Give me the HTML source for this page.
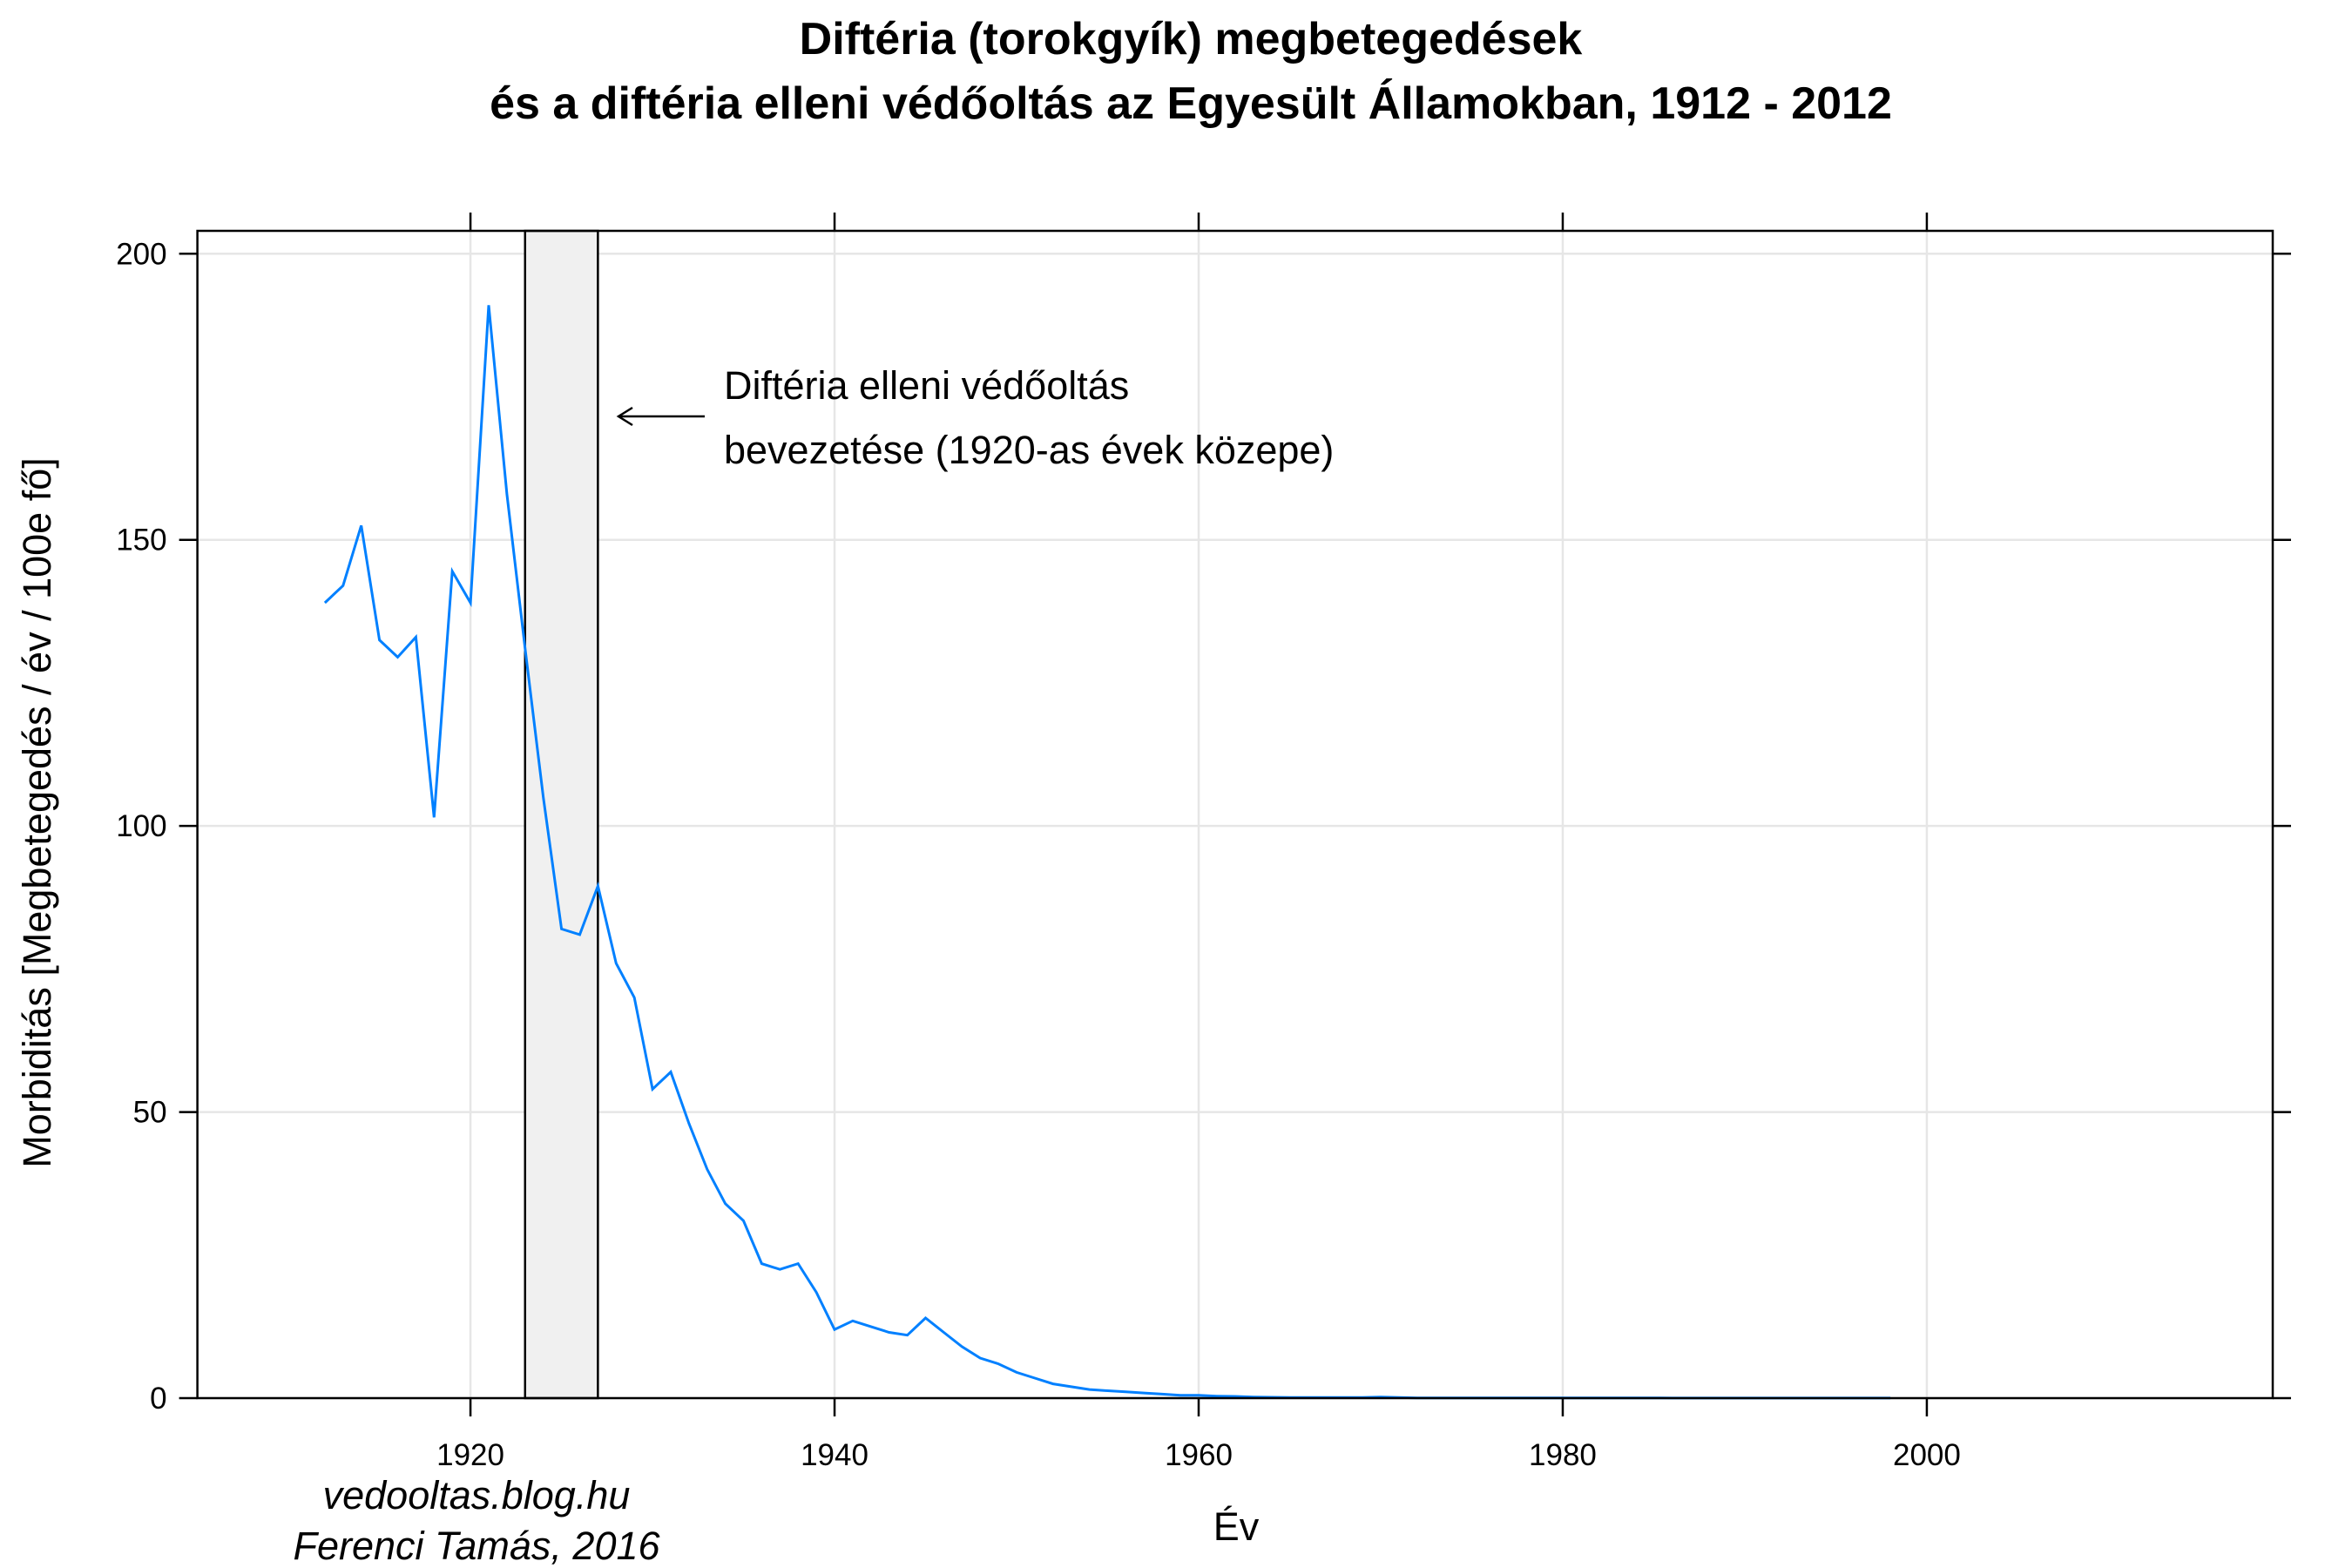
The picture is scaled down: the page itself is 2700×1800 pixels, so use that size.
<!DOCTYPE html>
<html><head><meta charset="utf-8">
<style>
html,body{margin:0;padding:0;background:#fff;}
svg{display:block;font-family:"Liberation Sans",Arial,sans-serif;}
</style></head>
<body>
<svg id="chart" width="2700" height="1800" viewBox="0 0 2700 1800" xmlns="http://www.w3.org/2000/svg">
<text x="1367" y="62" font-size="52" font-weight="bold" text-anchor="middle">Diftéria (torokgyík) megbetegedések</text>
<text x="1367" y="136" font-size="52" font-weight="bold" text-anchor="middle">és a diftéria elleni védőoltás az Egyesült Államokban, 1912 - 2012</text>
<g id="grid"></g>
<rect id="band" fill="#f0f0f0" stroke="#000" stroke-width="2.5"></rect>
<polyline id="series" fill="none" stroke="#0080ff" stroke-width="3"></polyline>
<rect x="226.6" y="265" width="2382.4" height="1340" fill="none" stroke="#000" stroke-width="2.5"></rect>
<g id="ticks"></g>
<g stroke="#000" stroke-width="2.5" fill="none">
<line x1="809" y1="478" x2="710" y2="478"></line>
<polyline points="726,468 710,478 726,488"></polyline>
</g>
<text x="831" y="458" font-size="45">Diftéria elleni védőoltás</text>
<text x="831" y="532" font-size="45">bevezetése (1920-as évek közepe)</text>
<text x="58" y="933" font-size="45" text-anchor="middle" transform="rotate(-90 58 933)">Morbiditás [Megbetegedés / év / 100e fő]</text>
<text x="1419" y="1768" font-size="45" text-anchor="middle">Év</text>
<text x="547" y="1732" font-size="45" font-style="italic" text-anchor="middle">vedooltas.blog.hu</text>
<text x="547" y="1802" font-size="45" font-style="italic" text-anchor="middle" dy="-12">Ferenci Tamás, 2016</text>
</svg>
<script>
const years = [1912,1913,1914,1915,1916,1917,1918,1919,1920,1921,1922,1923,1924,1925,1926,1927,1928,1929,1930,1931,1932,1933,1934,1935,1936,1937,1938,1939,1940,1941,1942,1943,1944,1945,1946,1947,1948,1949,1950,1951,1952,1953,1954,1955,1956,1957,1958,1959,1960,1961,1962,1963,1964,1965,1966,1967,1968,1969,1970,1971,1972,1973,1974,1975,1976,1977,1978,1979,1980,1981,1982,1983,1984,1985,1986,1987,1988,1989,1990,1991,1992,1993,1994,1995,1996,1997,1998];
const morbidity = [139,142,152.5,132.5,129.5,133,101.5,144.5,139,191,158,131,105,82,81,89.5,76,70,54,57,48,40,34,31,23.5,22.5,23.5,18.5,12,13.5,12.5,11.5,11,14,11.5,9,7,6,4.5,3.5,2.5,2,1.5,1.3,1.1,0.9,0.7,0.5,0.5,0.35,0.3,0.2,0.15,0.1,0.1,0.1,0.1,0.1,0.2,0.1,0.05,0.05,0.05,0.05,0.05,0.05,0.05,0.05,0.05,0.05,0.05,0.05,0.05,0.05,0.02,0.02,0.02,0.02,0.02,0.02,0.02,0.02,0.02,0.02,0.02,0.02,0.02];
const xTicks = [1920,1940,1960,1980,2000];
const yTicks = [0,50,100,150,200];
const bandYears = [1923,1927];
const X0=226.6,X1=2609,Y0=265,Y1=1605,XMIN=1905,XMAX=2019,YMIN=0,YMAX=204;
const sx=v=>X0+(v-XMIN)/(XMAX-XMIN)*(X1-X0);
const sy=v=>Y1-(v-YMIN)/(YMAX-YMIN)*(Y1-Y0);
const NS="http://www.w3.org/2000/svg";
const grid=document.getElementById('grid'), ticks=document.getElementById('ticks');
function mk(tag,attrs,parent){const e=document.createElementNS(NS,tag);for(const k in attrs)e.setAttribute(k,attrs[k]);parent.appendChild(e);return e;}
xTicks.forEach(t=>{
  const g=mk('line',{x1:sx(t),x2:sx(t),y1:Y0,y2:Y1,stroke:'#e6e6e6','stroke-width':2.5},grid);
  
  
  const a=mk('line',{x1:sx(t),x2:sx(t),y1:Y1,y2:Y1+21,stroke:'#000','stroke-width':2.5},ticks);
  
  
  const b=mk('line',{x1:sx(t),x2:sx(t),y1:Y0,y2:Y0-21,stroke:'#000','stroke-width':2.5},ticks);
  
  
  const l=mk('text',{x:sx(t),y:Y1+77,'font-size':35,'text-anchor':'middle'},ticks);
  l.textContent=t;
  
  
});
yTicks.forEach(t=>{
  const g=mk('line',{x1:X0,x2:X1,y1:sy(t),y2:sy(t),stroke:'#e6e6e6','stroke-width':2.5},grid);
  
  
  const a=mk('line',{x1:X0-21,x2:X0,y1:sy(t),y2:sy(t),stroke:'#000','stroke-width':2.5},ticks);
  
  
  const b=mk('line',{x1:X1,x2:X1+21,y1:sy(t),y2:sy(t),stroke:'#000','stroke-width':2.5},ticks);
  
  
  const l=mk('text',{x:X0-35,y:sy(t)+12,'font-size':35,'text-anchor':'end'},ticks);
  l.textContent=t;
  
  
});
const band=document.getElementById('band');
band.setAttribute('x',sx(bandYears[0]));band.setAttribute('width',sx(bandYears[1])-sx(bandYears[0]));
band.setAttribute('y',Y0);band.setAttribute('height',Y1-Y0);
document.getElementById('series').setAttribute('points',years.map((y,i)=>sx(y).toFixed(1)+','+sy(morbidity[i]).toFixed(1)).join(' '));
</script>
</body></html>
